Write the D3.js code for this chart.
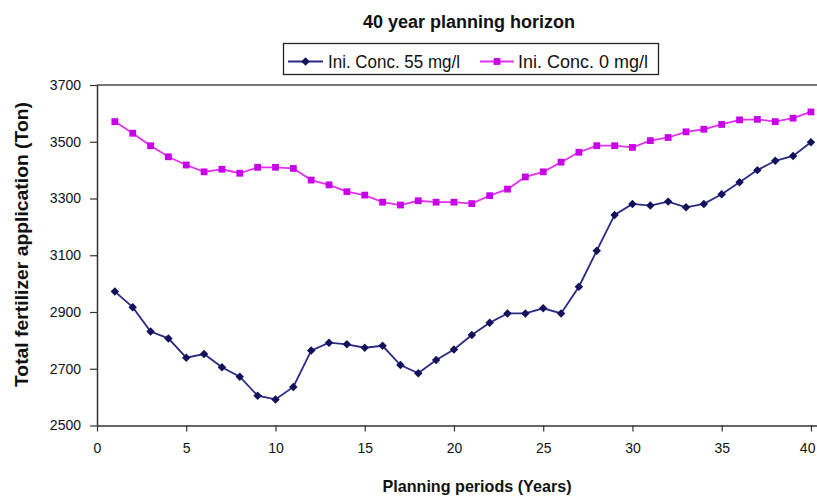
<!DOCTYPE html>
<html>
<head>
<meta charset="utf-8">
<script src="https://cdn.jsdelivr.net/npm/d3@7/dist/d3.min.js"></script>
<style>
  html, body { margin: 0; padding: 0; background: #fff; }
  svg { display: block; font-family: "Liberation Sans", Arial, sans-serif; }
</style>
</head>
<body>
<svg id="chart" width="817" height="497"></svg>
<script>
// Planning periods (years)
const years = [1, 2, 3, 4, 5, 6, 7, 8, 9, 10, 11, 12, 13, 14, 15, 16, 17, 18, 19, 20,
               21, 22, 23, 24, 25, 26, 27, 28, 29, 30, 31, 32, 33, 34, 35, 36, 37, 38, 39, 40];

// Total fertilizer application (Ton), initial concentration 55 mg/l
const conc55 = [2972, 2917, 2831, 2807, 2739, 2752, 2705, 2672, 2605, 2592,
                2636, 2764, 2792, 2786, 2774, 2781, 2713, 2684, 2731, 2768,
                2819, 2862, 2895, 2895, 2913, 2895, 2989, 3116, 3242, 3281,
                3275, 3289, 3269, 3281, 3315, 3357, 3400, 3433, 3450, 3498];

// Total fertilizer application (Ton), initial concentration 0 mg/l
const conc0 = [3571, 3530, 3486, 3447, 3418, 3394, 3403, 3389, 3410, 3410,
               3406, 3365, 3348, 3324, 3312, 3287, 3277, 3292, 3287, 3287,
               3282, 3310, 3333, 3376, 3394, 3428, 3463, 3486, 3486, 3480,
               3504, 3515, 3535, 3544, 3561, 3577, 3579, 3571, 3583, 3605];

const xTicks = [0, 5, 10, 15, 20, 25, 30, 35, 40];
const yTicks = [2500, 2700, 2900, 3100, 3300, 3500, 3700];
const seriesNames = ["Ini. Conc. 55 mg/l", "Ini. Conc. 0 mg/l"];

const svg = d3.select("#chart");

const plot = { left: 97, right: 817, top: 85, bottom: 425.5 };

// x runs slightly past 40 so the axis line reaches the right edge
const x = d3.scaleLinear().domain([0, 40.34]).range([plot.left, plot.right]);
const y = d3.scaleLinear().domain([2500, 3700]).range([plot.bottom, plot.top]);

// top frame line
svg.append("line")
  .attr("x1", plot.left).attr("x2", plot.right)
  .attr("y1", y(3700)).attr("y2", y(3700))
  .attr("stroke", "#777").attr("stroke-width", 2);

// y axis
const yAxis = svg.append("g")
  .attr("transform", `translate(${plot.left},0)`)
  .call(d3.axisLeft(y).tickValues(yTicks).tickFormat(d3.format("d"))
    .tickSize(7).tickPadding(9).tickSizeOuter(0));
yAxis.select(".domain").attr("stroke", "#333").attr("stroke-width", 1.5);
yAxis.selectAll(".tick line").attr("stroke", "#333").attr("stroke-width", 1.2);
yAxis.selectAll(".tick text")
  .attr("font-size", 14).attr("fill", "#111")
  .attr("font-family", "Liberation Sans, Arial, sans-serif");

// x axis
const xAxis = svg.append("g")
  .attr("transform", `translate(0,${plot.bottom})`)
  .call(d3.axisBottom(x).tickValues(xTicks).tickFormat(d3.format("d"))
    .tickSize(6).tickPadding(12).tickSizeOuter(0));
xAxis.select(".domain").attr("stroke", "#666").attr("stroke-width", 2);
xAxis.selectAll(".tick line").attr("stroke", "#333").attr("stroke-width", 1.2);
xAxis.selectAll(".tick text")
  .attr("font-size", 14).attr("fill", "#111")
  .attr("font-family", "Liberation Sans, Arial, sans-serif");
// the last label sits against the right edge
xAxis.selectAll(".tick text").filter(d => d === 40)
  .attr("text-anchor", "end").attr("dx", "4");

// diamond = square turned by 45 degrees
const marker = (type, size, rot) => ({ type, size, rot });

const series = [
  { name: seriesNames[0], values: conc55, line: "#2b2b85", mark: "#12125c", m: marker(d3.symbolSquare, 36, 45) },
  { name: seriesNames[1], values: conc0, line: "#e030f0", mark: "#c800ea", m: marker(d3.symbolSquare, 46, 0) }
];

const lineGen = d3.line()
  .x(d => x(d.year))
  .y(d => y(d.value));

series.forEach(s => {
  const pts = years.map((yr, i) => ({ year: yr, value: s.values[i] }));
  svg.append("path")
    .datum(pts)
    .attr("fill", "none")
    .attr("stroke", s.line)
    .attr("stroke-width", 1.8)
    .attr("d", lineGen);
  svg.append("g")
    .selectAll("path")
    .data(pts)
    .join("path")
    .attr("transform", d => `translate(${x(d.year)},${y(d.value)}) rotate(${s.m.rot})`)
    .attr("d", d3.symbol().type(s.m.type).size(s.m.size))
    .attr("fill", s.mark);
});

// title
svg.append("text")
  .attr("x", 469).attr("y", 28)
  .attr("text-anchor", "middle")
  .attr("font-size", 18).attr("font-weight", "bold").attr("fill", "#111")
  .attr("textLength", 212).attr("lengthAdjust", "spacingAndGlyphs")
  .text("40 year planning horizon");

// legend
const legend = svg.append("g");
legend.append("rect")
  .attr("x", 283.5).attr("y", 43.5).attr("width", 375).attr("height", 31)
  .attr("fill", "#fff").attr("stroke", "#222").attr("stroke-width", 1.3);

const legendItems = [
  { s: series[0], x0: 288, x1: 323, tx: 328, tw: 132 },
  { s: series[1], x0: 480, x1: 514, tx: 518, tw: 130 }
];
legendItems.forEach(it => {
  legend.append("line")
    .attr("x1", it.x0).attr("x2", it.x1).attr("y1", 61.5).attr("y2", 61.5)
    .attr("stroke", it.s.line).attr("stroke-width", 1.8);
  legend.append("path")
    .attr("transform", `translate(${(it.x0 + it.x1) / 2},61.5) rotate(${it.s.m.rot})`)
    .attr("d", d3.symbol().type(it.s.m.type).size(it.s.m.size))
    .attr("fill", it.s.mark);
  legend.append("text")
    .attr("x", it.tx).attr("y", 67.5)
    .attr("font-size", 17.5).attr("fill", "#111")
    .attr("textLength", it.tw).attr("lengthAdjust", "spacingAndGlyphs")
    .text(it.s.name);
});

// axis titles
svg.append("text")
  .attr("x", 477).attr("y", 492)
  .attr("text-anchor", "middle")
  .attr("font-size", 17).attr("font-weight", "bold").attr("fill", "#111")
  .attr("textLength", 189).attr("lengthAdjust", "spacingAndGlyphs")
  .text("Planning periods (Years)");

svg.append("text")
  .attr("transform", "translate(28,244.5) rotate(-90)")
  .attr("text-anchor", "middle")
  .attr("font-size", 18).attr("font-weight", "bold").attr("fill", "#111")
  .attr("textLength", 285).attr("lengthAdjust", "spacingAndGlyphs")
  .text("Total fertilizer application (Ton)");
</script>
</body>
</html>
